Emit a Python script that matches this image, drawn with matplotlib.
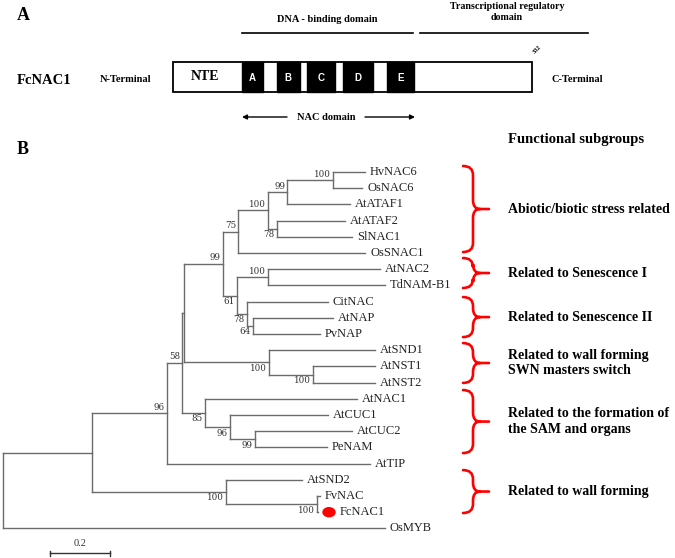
import matplotlib
matplotlib.use('Agg')
import matplotlib.pyplot as plt
import matplotlib.patches as patches
from matplotlib.path import Path

# ---- panel A: FcNAC1 protein (residues) ----
protein_length = 332
motif_names = ['A', 'B', 'C', 'D', 'E']
motif_start = [64, 96, 124, 157, 198]
motif_end = [83, 117, 150, 185, 223]

# ---- panel B: tree (leaves top to bottom, depth = distance from root) ----
leaf_names = ['HvNAC6', 'OsNAC6', 'AtATAF1', 'AtATAF2', 'SlNAC1', 'OsSNAC1',
              'AtNAC2', 'TdNAM-B1', 'CitNAC', 'AtNAP', 'PvNAP',
              'AtSND1', 'AtNST1', 'AtNST2', 'AtNAC1', 'AtCUC1', 'AtCUC2',
              'PeNAM', 'AtTIP', 'AtSND2', 'FvNAC', 'FcNAC1', 'OsMYB']
leaf_depth = [1.207, 1.197, 1.157, 1.140, 1.163, 1.207,
              1.257, 1.273, 1.083, 1.100, 1.057,
              1.240, 1.240, 1.240, 1.180, 1.083, 1.163,
              1.080, 1.223, 0.997, 1.057, 1.050, 1.273]

node_names = ['root', 'nA', 'nB', 'nC', 'nD', 'n99a', 'n75', 'n100a', 'n99b',
              'n100b', 'n78a', 'n61', 'n100c', 'n78b', 'n64', 'nSND1', 'nNST',
              'nE', 'n96', 'n99c', 'nWall', 'nFv']
node_depth = [0.0, 0.297, 0.547, 0.597, 0.603, 0.733, 0.783, 0.883, 0.947,
              1.100, 0.913, 0.780, 0.883, 0.813, 0.833, 0.887, 1.033,
              0.673, 0.757, 0.840, 0.743, 1.047]
node_boot = [None, None, 96, 58, None, 99, 75, 100, 99,
             100, 78, 61, 100, 78, 64, 100, 100,
             85, 96, 99, 100, 100]
node_children = [['nA', 'OsMYB'], ['nB', 'nWall'], ['nC', 'AtTIP'], ['nD', 'nE'],
                 ['n99a', 'nSND1'], ['n75', 'n61'], ['n100a', 'OsSNAC1'],
                 ['n99b', 'n78a'], ['n100b', 'AtATAF1'], ['HvNAC6', 'OsNAC6'],
                 ['AtATAF2', 'SlNAC1'], ['n100c', 'n78b'], ['AtNAC2', 'TdNAM-B1'],
                 ['CitNAC', 'n64'], ['AtNAP', 'PvNAP'], ['AtSND1', 'nNST'],
                 ['AtNST1', 'AtNST2'], ['AtNAC1', 'n96'], ['AtCUC1', 'n99c'],
                 ['AtCUC2', 'PeNAM'], ['AtSND2', 'nFv'], ['FvNAC', 'FcNAC1']]
highlight = 'FcNAC1'
scale_len = 0.2

# functional subgroups (brace span in leaf rows)
group_names = ['Abiotic/biotic stress related', 'Related to Senescence I',
               'Related to Senescence II',
               'Related to wall forming\nSWN masters switch',
               'Related to the formation of\nthe SAM and organs',
               'Related to wall forming']
group_top = [-0.37, 5.31, 7.72, 10.56, 13.46, 18.4]
group_bottom = [4.94, 7.16, 10.19, 13.02, 17.35, 21.05]

serif = 'Liberation Serif'
fig = plt.figure(figsize=(6.75, 5.58), dpi=100)
ax = fig.add_axes([0, 0, 1, 1])
ax.set_xlim(0, 675)
ax.set_ylim(558, 0)
ax.axis('off')

# ================= panel A =================
bx0, bx1, by0, bh = 173, 532, 62, 30
aa = (bx1 - bx0) / protein_length
ax.add_patch(patches.Rectangle((bx0, by0), bx1 - bx0, bh, facecolor='white',
                               edgecolor='black', lw=1.3))
for name, s, e in zip(motif_names, motif_start, motif_end):
    ax.add_patch(patches.Rectangle((bx0 + s * aa, by0), (e - s) * aa, bh,
                                   facecolor='black', edgecolor='black', lw=1))
    ax.text(bx0 + (s + e) / 2 * aa, by0 + bh / 2 + 1, name, color='white',
            fontsize=7, fontweight='bold', family='Liberation Sans',
            ha='center', va='center')
ax.text(205, 76, 'NTE', fontsize=10, fontweight='bold', family=serif,
        ha='center', va='center')
ax.text(bx1 + 5, by0 - 12, str(protein_length), fontsize=4.5, rotation=45,
        family=serif, fontweight='bold', ha='center', va='center')

ax.text(17, 15, 'A', fontsize=13, fontweight='bold', family=serif, va='center')
ax.text(17, 80, 'FcNAC1', fontsize=10.5, fontweight='bold', family=serif, va='center')
ax.text(100, 80, 'N-Terminal', fontsize=7.5, fontweight='bold', family=serif, va='center')
ax.text(551, 79, 'C-Terminal', fontsize=7.5, fontweight='bold', family=serif, va='center')

ax.text(327, 20, 'DNA - binding domain', fontsize=7.5, fontweight='bold',
        family=serif, ha='center', va='center')
ax.plot([242, 413], [33, 33], color='black', lw=1.2)
ax.text(507, 12, 'Transcriptional regulatory\ndomain', fontsize=7.2,
        fontweight='bold', family=serif, ha='center', va='center', linespacing=1.15)
ax.plot([420, 588], [33, 33], color='black', lw=1.2)

ax.text(326, 117, 'NAC domain', fontsize=7.5, fontweight='bold', family=serif,
        ha='center', va='center')
for x_from, x_to in [(287, 242), (365, 415)]:
    ax.annotate('', xy=(x_to, 117), xytext=(x_from, 117),
                arrowprops=dict(arrowstyle='-|>', color='black', lw=1,
                                mutation_scale=7, shrinkA=0, shrinkB=0))

# ================= panel B =================
ax.text(17, 149, 'B', fontsize=13, fontweight='bold', family=serif, va='center')
ax.text(508, 140, 'Functional subgroups', fontsize=10.5, fontweight='bold',
        family=serif, va='center')

x0, sx = 3, 300
y0, dy = 172, 16.2
tree_col = '#6b6b6b'
node_info = {n: (d, b, c) for n, d, b, c in zip(node_names, node_depth, node_boot, node_children)}
leaf_info = {n: (i, d) for i, (n, d) in enumerate(zip(leaf_names, leaf_depth))}


def draw(name):
    if name in leaf_info:
        i, d = leaf_info[name]
        x, y = x0 + d * sx, y0 + i * dy
        if name == highlight:
            ax.add_patch(patches.Ellipse((x + 11, y), 12, 9, color='red'))
            ax.text(x + 22, y, name, fontsize=9, family=serif, color='#222222', va='center')
        else:
            ax.text(x + 5, y, name, fontsize=9, family=serif, color='#222222', va='center')
        return x, y
    d, b, kids = node_info[name]
    x = x0 + d * sx
    pos = [draw(k) for k in kids]
    ys = [p[1] for p in pos]
    ax.plot([x, x], [min(ys), max(ys)], color=tree_col, lw=1)
    for j, (k, (cx, cy)) in enumerate(zip(kids, pos)):
        ax.plot([x, cx], [cy, cy], color=tree_col, lw=1)
        if k in node_info and node_info[k][1] is not None:
            off = -1.5 if j == 0 else 1.5
            ax.text(cx - 2, cy + off, str(node_info[k][1]), fontsize=6.3,
                    family='DejaVu Serif', color='#333333', ha='right',
                    va='bottom' if j == 0 else 'top')
    return x, (min(ys) + max(ys)) / 2


draw('root')

# scale bar
sb_x, sb_y = 50, 553
ax.plot([sb_x, sb_x + scale_len * sx], [sb_y, sb_y], color='#333333', lw=1)
for xe in [sb_x, sb_x + scale_len * sx]:
    ax.plot([xe, xe], [sb_y - 2.5, sb_y + 2.5], color='#333333', lw=1)
ax.text(sb_x + scale_len * sx / 2, sb_y - 5, str(scale_len), fontsize=7.5,
        family=serif, color='#333333', ha='center', va='bottom')

# braces
xl, xv, xt, r = 463, 473, 489, 9
for name, t, bt in zip(group_names, group_top, group_bottom):
    top, bot = y0 + t * dy, y0 + bt * dy
    ym = (top + bot) / 2
    verts = [(xl, top), (xv, top), (xv, top + r), (xv, ym - r), (xv, ym), (xv + 7, ym),
             (xt, ym),
             (xv + 7, ym), (xv, ym), (xv, ym + r), (xv, bot - r), (xv, bot), (xl, bot)]
    codes = [Path.MOVETO, Path.CURVE3, Path.CURVE3, Path.LINETO, Path.CURVE3, Path.CURVE3,
             Path.LINETO,
             Path.MOVETO, Path.CURVE3, Path.CURVE3, Path.LINETO, Path.CURVE3, Path.CURVE3]
    ax.add_patch(patches.PathPatch(Path(verts, codes), facecolor='none',
                                   edgecolor='red', lw=1.9, capstyle='round'))
    ax.text(508, ym, name, fontsize=10, fontweight='bold', family=serif,
            va='center', linespacing=1.25)

fig.savefig('out.png', dpi=100)
